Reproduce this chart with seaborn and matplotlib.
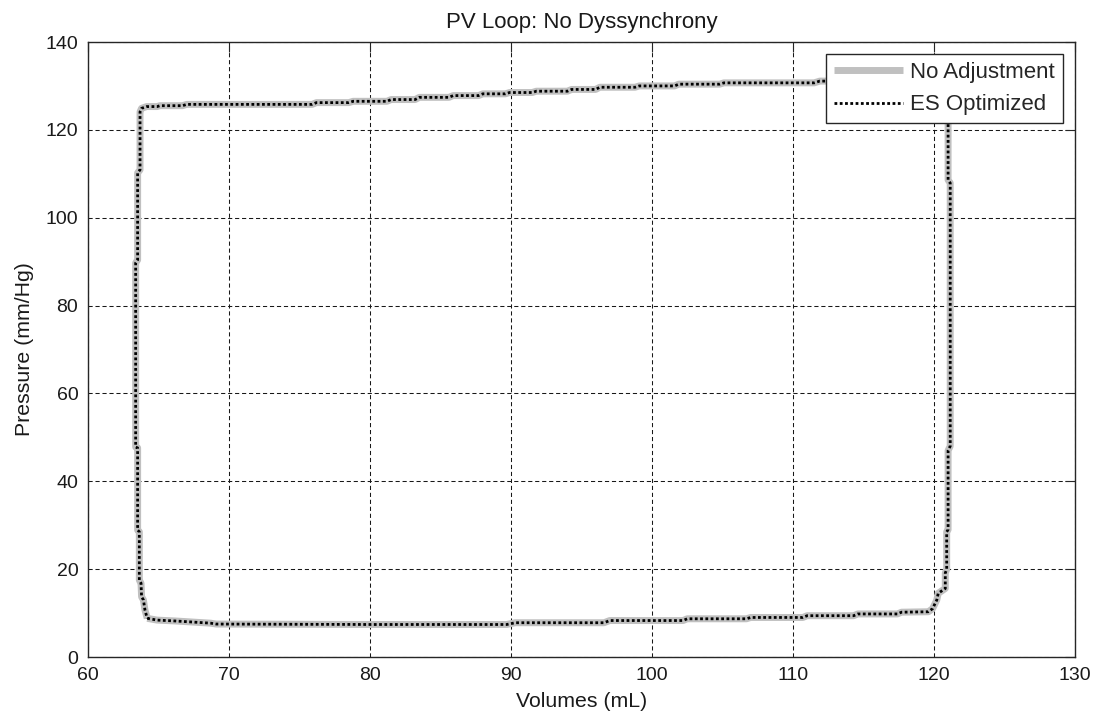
import matplotlib
matplotlib.use("Agg")
import matplotlib.pyplot as plt
import pandas as pd
import seaborn as sns

# Pressure-volume loop: filling (bottom), isovolumic contraction (right),
# ejection (top), isovolumic relaxation (left)
volume_ml = [
    64.2, 64.9, 66.2, 68.7, 69.1, 80.0, 89.7, 90.3, 96.6, 97.0, 102.2, 102.5,
    106.7, 107.0, 110.7, 111.0, 114.3, 114.6, 117.4, 117.7, 119.6, 119.9,
    120.2, 120.3, 120.8, 120.8, 120.9, 120.9, 121.0, 121.0, 121.15, 121.15,
    121.0, 121.0,
    111.9, 111.5, 105.1, 104.8, 101.9, 101.6, 99.1, 98.8, 96.3, 96.0, 94.3,
    94.0, 91.8, 91.5, 89.9, 89.6, 88.0, 87.7, 85.9, 85.6, 83.5, 83.2, 81.5,
    81.2, 78.8, 78.5, 76.2, 75.9, 71.5, 67.0, 66.7, 65.1, 64.9, 64.16, 63.8,
    63.69, 63.69, 63.52, 63.52, 63.38, 63.38, 63.52, 63.52, 63.64, 63.64,
    63.76, 63.8, 63.93, 64.04, 64.2,
]
pressure_mmhg = [
    8.8, 8.4, 8.2, 7.7, 7.5, 7.4, 7.4, 7.8, 7.8, 8.3, 8.3, 8.7,
    8.7, 9.0, 9.0, 9.4, 9.4, 9.8, 9.8, 10.2, 10.3, 11.0,
    13.0, 14.5, 15.6, 19.1, 20.0, 28.5, 29.0, 47.0, 48.0, 107.9,
    108.6, 131.1,
    131.1, 130.7, 130.7, 130.4, 130.4, 130.0, 130.0, 129.7, 129.7, 129.2, 129.2,
    128.8, 128.8, 128.5, 128.5, 128.2, 128.2, 127.8, 127.8, 127.4, 127.4, 126.9, 126.9,
    126.5, 126.5, 126.2, 126.2, 125.8, 125.8, 125.8, 125.5, 125.5, 125.3, 125.3, 124.9,
    124.1, 110.9, 110.2, 90.4, 89.7, 47.8, 47.6, 28.9, 28.5, 17.5,
    16.8, 13.7, 13.0, 10.7, 8.8,
]
series_names = ["No Adjustment", "ES Optimized"]

x_ticks = [60, 70, 80, 90, 100, 110, 120, 130]
y_ticks = [0, 20, 40, 60, 80, 100, 120, 140]

loop = pd.DataFrame({"volume": volume_ml, "pressure": pressure_mmhg})

sns.set_style("white")
plt.rcParams["font.family"] = ["Liberation Sans", "DejaVu Sans"]

fig = plt.figure(figsize=(10.99, 7.25), dpi=100)
ax = fig.add_axes([88 / 1099, 68 / 725, 987 / 1099, 615 / 725])

sns.lineplot(data=loop, x="volume", y="pressure", sort=False, estimator=None,
             ax=ax, color="#c0c0c0", linewidth=5.0, label=series_names[0],
             solid_capstyle="butt", zorder=3)
sns.lineplot(data=loop, x="volume", y="pressure", sort=False, estimator=None,
             ax=ax, color="black", linewidth=2.0, dashes=False,
             label=series_names[1], zorder=4)
ax.lines[1].set_dashes((1, 0.9))

ax.set_xlim(60, 130)
ax.set_ylim(0, 140)
ax.set_xticks(x_ticks)
ax.set_yticks(y_ticks)
ax.grid(True, color="#181818", linewidth=0.75, linestyle=(0, (4, 2.7)))
ax.set_axisbelow(True)

for side in ["left", "right", "top", "bottom"]:
    ax.spines[side].set_visible(True)
    ax.spines[side].set_color("#262626")
    ax.spines[side].set_linewidth(1.0)

ax.tick_params(direction="in", length=7.2, width=0.8, colors="#262626",
               top=True, right=True, labelsize=14, pad=7,
               labelcolor="#1a1a1a")

ax.set_xlabel("Volumes (mL)", fontsize=15.3, labelpad=6, color="#1a1a1a")
ax.set_ylabel("Pressure (mm/Hg)", fontsize=15.3, labelpad=8, color="#1a1a1a")
ax.set_title("PV Loop: No Dyssynchrony", fontsize=16, pad=10, color="#1a1a1a")

leg = ax.legend(loc="upper right", fontsize=16, frameon=True, fancybox=False,
                edgecolor="#262626", handlelength=3.1, handletextpad=0.32,
                borderpad=0.36, labelspacing=0.5, borderaxespad=0.55,
                framealpha=1)
leg.get_frame().set_linewidth(1.0)

fig.savefig("out.png", dpi=100)
